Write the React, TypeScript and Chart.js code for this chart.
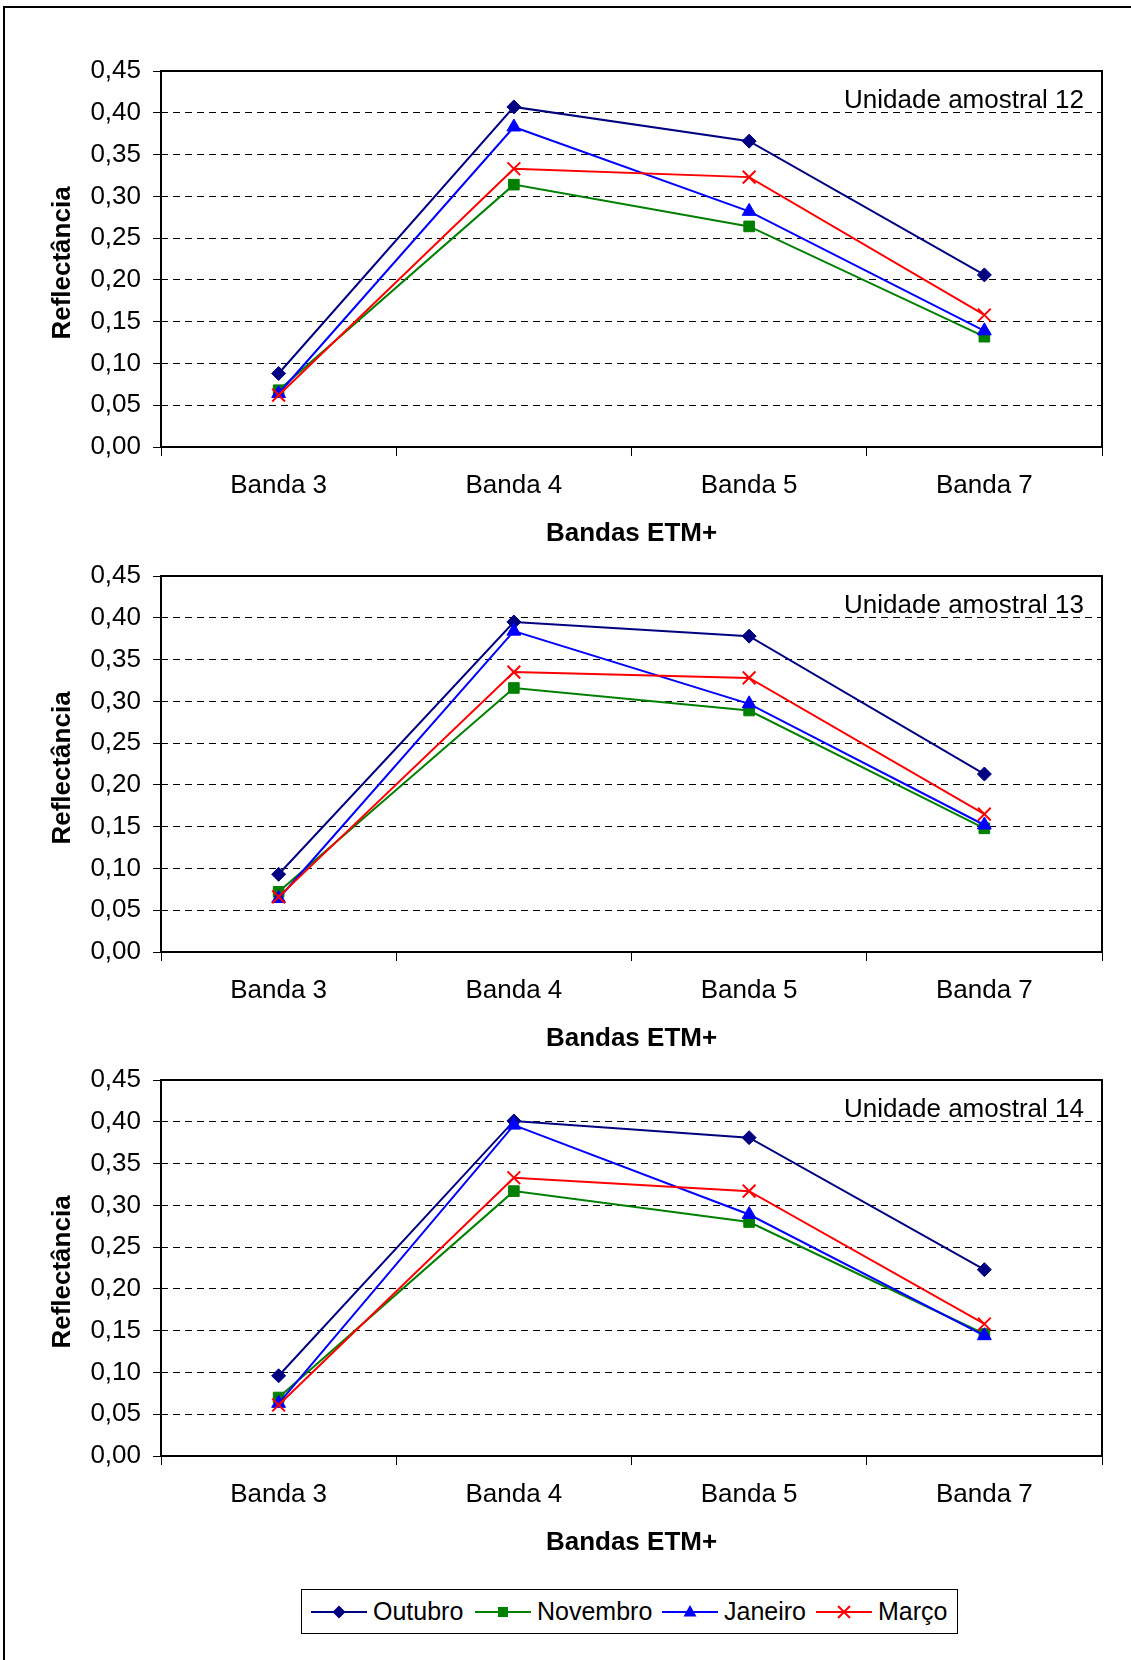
import React, { useEffect, useRef } from "react";
import { Chart, registerables } from "chart.js";

Chart.register(...registerables);

// ---- data ----
const bands = ["Banda 3", "Banda 4", "Banda 5", "Banda 7"];
const seriesNames = ["Outubro", "Novembro", "Janeiro", "Março"];
const yTickValues = [0, 0.05, 0.1, 0.15, 0.2, 0.25, 0.3, 0.35, 0.4, 0.45];

const u12Outubro = [0.088, 0.407, 0.366, 0.206];
const u12Novembro = [0.068, 0.314, 0.264, 0.132];
const u12Janeiro = [0.064, 0.383, 0.282, 0.139];
const u12Marco = [0.062, 0.333, 0.323, 0.158];

const u13Outubro = [0.093, 0.395, 0.378, 0.213];
const u13Novembro = [0.072, 0.316, 0.289, 0.148];
const u13Janeiro = [0.064, 0.384, 0.297, 0.152];
const u13Marco = [0.066, 0.335, 0.328, 0.165];

const u14Outubro = [0.096, 0.401, 0.381, 0.223];
const u14Novembro = [0.070, 0.317, 0.280, 0.146];
const u14Janeiro = [0.063, 0.396, 0.289, 0.144];
const u14Marco = [0.061, 0.333, 0.317, 0.158];

const panelLabels = ["Unidade amostral 12", "Unidade amostral 13", "Unidade amostral 14"];
const yTitle = "Reflectância";
const xTitle = "Bandas ETM+";
const panelData = [
  [u12Outubro, u12Novembro, u12Janeiro, u12Marco],
  [u13Outubro, u13Novembro, u13Janeiro, u13Marco],
  [u14Outubro, u14Novembro, u14Janeiro, u14Marco],
];

// ---- styles ----
const FONT = '"Liberation Sans", Arial, Helvetica, sans-serif';
const colors = ["#000080", "#008000", "#0000FF", "#FF0000"];
const pointStyles = ["rectRot", "rect", "triangle", "crossRot"];
const pointRadii = [7, 7.5, 8, 9];
const drawOrder = [4, 3, 2, 1];

const CANVAS_W = 1131;
const CANVAS_H = 540;
const canvasTops = [20, 525, 1029];

const framePlugin = {
  id: "frame",
  beforeDatasetsDraw(chart: any) {
    const { ctx, chartArea: a } = chart;
    ctx.save();
    ctx.strokeStyle = "#000";
    ctx.lineWidth = 2;
    ctx.strokeRect(a.left, a.top, a.right - a.left, a.bottom - a.top);
    ctx.restore();
  },
  afterDraw(chart: any, _args: any, opts: any) {
    const { ctx, chartArea: a } = chart;
    ctx.save();
    ctx.fillStyle = "#000";
    ctx.font = `26px ${FONT}`;
    ctx.textAlign = "right";
    ctx.textBaseline = "alphabetic";
    ctx.fillText(opts.label || "", a.right - 18, a.top + 37);
    // y axis title
    ctx.font = `bold 26px ${FONT}`;
    ctx.textAlign = "center";
    ctx.textBaseline = "middle";
    ctx.translate(63, (a.top + a.bottom) / 2 + 4);
    ctx.rotate(-Math.PI / 2);
    ctx.fillText(opts.yTitle || "", 0, 0);
    ctx.restore();
  },
};

function Panel({ index }: { index: number }) {
  const ref = useRef<HTMLCanvasElement | null>(null);
  useEffect(() => {
    if (!ref.current) return;
    const data = panelData[index];
    const chart = new Chart(ref.current, {
      type: "line",
      data: {
        labels: bands,
        datasets: seriesNames.map((name, i) => ({
          label: name,
          data: data[i],
          borderColor: colors[i],
          backgroundColor: colors[i],
          borderWidth: 2,
          pointStyle: pointStyles[i] as any,
          pointRadius: pointRadii[i],
          pointBorderWidth: i === 3 ? 2 : 1,
          pointBorderColor: colors[i],
          pointBackgroundColor: colors[i],
          tension: 0,
          fill: false,
          order: drawOrder[i],
        })),
      },
      options: {
        responsive: false,
        maintainAspectRatio: false,
        animation: false,
        layout: { padding: { top: 51, right: 29, left: 0, bottom: 0 } },
        plugins: {
          legend: { display: false },
          tooltip: { enabled: false },
          frame: { label: panelLabels[index], yTitle },
        } as any,
        scales: {
          x: {
            type: "category",
            offset: true,
            grid: {
              offset: true,
              drawOnChartArea: false,
              drawTicks: true,
              tickLength: 9,
              color: "#000",
              lineWidth: 1,
            },
            border: { display: false },
            ticks: {
              color: "#000",
              font: { size: 26, family: FONT },
              padding: 14,
              maxRotation: 0,
              autoSkip: false,
            },
            title: {
              display: true,
              text: xTitle,
              color: "#000",
              font: { size: 26, weight: "bold", family: FONT },
              padding: { top: 0, bottom: 11 },
            },
            afterFit: (s: any) => {
              s.height = 113;
            },
          },
          y: {
            min: 0,
            max: 0.45,
            afterBuildTicks: (s: any) => {
              s.ticks = yTickValues.map((v) => ({ value: v }));
            },
            ticks: {
              stepSize: 0.05,
              color: "#000",
              font: { size: 26, family: FONT },
              padding: 12,
              callback: (v: any) => Number(v).toFixed(2).replace(".", ","),
            },
            grid: {
              color: "#000",
              lineWidth: 1,
              drawTicks: true,
              tickLength: 8,
              tickColor: "#000",
              tickBorderDash: [],
            } as any,
            border: { display: false, dash: [7, 5] },
            title: { display: false },
            afterFit: (s: any) => {
              s.width = 161;
            },
          },
        },
      },
      plugins: [framePlugin],
    } as any);
    return () => chart.destroy();
  }, [index]);
  return (
    <canvas
      ref={ref}
      width={CANVAS_W}
      height={CANVAS_H}
      style={{ position: "absolute", left: 0, top: canvasTops[index], width: CANVAS_W, height: CANVAS_H }}
    />
  );
}

function Marker({ i }: { i: number }) {
  const c = colors[i];
  let shape: any = null;
  if (i === 0) shape = <polygon points="28,3.5 34.5,10 28,16.5 21.5,10" fill={c} />;
  else if (i === 1) shape = <rect x={23} y={5} width={10} height={10} fill={c} />;
  else if (i === 2) shape = <polygon points="28,3 34.5,14.5 21.5,14.5" fill={c} />;
  else
    shape = (
      <g stroke={c} strokeWidth={2}>
        <line x1={22} y1={4} x2={34} y2={16} />
        <line x1={34} y1={4} x2={22} y2={16} />
      </g>
    );
  return (
    <svg width={56} height={20} style={{ display: "block" }}>
      <line x1={0} y1={10} x2={56} y2={10} stroke={c} strokeWidth={2} />
      {shape}
    </svg>
  );
}

const legendLineX = [311, 475, 662, 816];

export default function App() {
  return (
    <div
      style={{
        position: "absolute",
        left: 0,
        top: 0,
        width: 1131,
        height: 1660,
        background: "#fff",
        overflow: "hidden",
        fontFamily: FONT,
      }}
    >
      <div
        style={{
          position: "absolute",
          left: 3,
          top: 6,
          right: 0,
          bottom: 0,
          borderLeft: "2px solid #000",
          borderTop: "2px solid #000",
        }}
      />
      <Panel index={0} />
      <Panel index={1} />
      <Panel index={2} />
      <div
        style={{
          position: "absolute",
          left: 301,
          top: 1589,
          width: 657,
          height: 45,
          boxSizing: "border-box",
          border: "1px solid #000",
        }}
      />
      {seriesNames.map((name, i) => (
        <div
          key={name}
          style={{
            position: "absolute",
            left: legendLineX[i],
            top: 1589,
            height: 45,
            display: "flex",
            alignItems: "center",
            fontSize: 25,
            color: "#000",
            whiteSpace: "nowrap",
          }}
        >
          <Marker i={i} />
          <span style={{ marginLeft: 6 }}>{name}</span>
        </div>
      ))}
    </div>
  );
}
